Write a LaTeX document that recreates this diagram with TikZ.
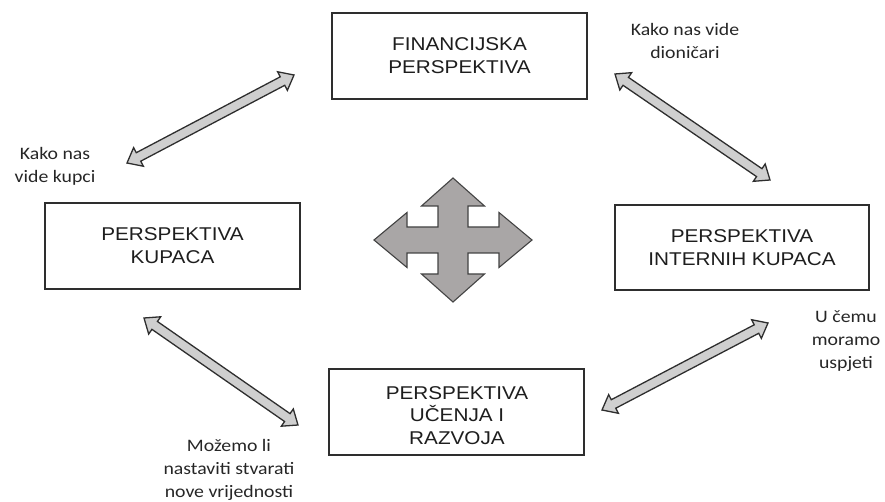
\documentclass[tikz,border=0pt]{standalone}
\usepackage{fontspec}
\usetikzlibrary{calc}
\newfontfamily\boxfont[FakeStretch=1.12]{Liberation Sans}
\newfontfamily\lblfont[FakeStretch=1.13]{Carlito}
\definecolor{boxline}{HTML}{2E2E2E}
\definecolor{boxtext}{HTML}{1E1E1E}
\definecolor{lbltext}{HTML}{262626}
\definecolor{arrfill}{HTML}{CFCFCF}
\definecolor{crossfill}{HTML}{A9A6A6}
\newdimen\BAax \newdimen\BAay \newdimen\BAbx \newdimen\BAby
\newcommand\blockarrow[2]{%
  \pgfextractx{\BAax}{\pgfpointanchor{#1}{center}}%
  \pgfextracty{\BAay}{\pgfpointanchor{#1}{center}}%
  \pgfextractx{\BAbx}{\pgfpointanchor{#2}{center}}%
  \pgfextracty{\BAby}{\pgfpointanchor{#2}{center}}%
  \pgfmathsetmacro\BAlen{veclen(\BAbx-\BAax,\BAby-\BAay)}%
  \pgfmathsetmacro\BAang{atan2(\BAby-\BAay,\BAbx-\BAax)}%
  \pgfmathsetmacro\BAe{\BAlen-13}%
  \begin{scope}[shift={(#1)}, rotate=\BAang]
    \draw[dblarrow] (0pt,0pt) -- (13pt,10.5pt) -- (13pt,4.8pt) -- (\BAe pt,4.8pt)
      -- (\BAe pt,10.5pt) -- (\BAlen pt,0pt) -- (\BAe pt,-10.5pt) -- (\BAe pt,-4.8pt)
      -- (13pt,-4.8pt) -- (13pt,-10.5pt) -- cycle;
  \end{scope}}
\tikzset{
  box/.style={draw=boxline, line width=1.3pt, fill=white, rectangle, inner sep=0pt,
    align=center, text=boxtext, font=\boxfont\fontsize{18.5}{23}\selectfont},
  lbl/.style={align=center, text=lbltext, inner sep=0pt,
    font=\lblfont\fontsize{17.5}{23}\selectfont},
  dblarrow/.style={draw=boxline, line width=1.3pt, fill=arrfill, line join=miter},
  crossarrow/.style={draw=boxline!90, line width=1.1pt, fill=crossfill, line join=miter},
}
\begin{document}
\begin{tikzpicture}[x=1pt, y=-1pt]
\useasboundingbox (0,0) rectangle (885,502);

% boxes
\node[box, minimum width=255pt, minimum height=86pt] (fin) at (459.5,56)
  {FINANCIJSKA\\PERSPEKTIVA};
\node[box, minimum width=255pt, minimum height=86pt] (kup) at (172.5,246)
  {PERSPEKTIVA\\KUPACA};
\node[box, minimum width=254pt, minimum height=85pt] (int) at (742,247.5)
  {PERSPEKTIVA\\INTERNIH KUPACA};
\node[box, minimum width=255pt, minimum height=86pt] (uce) at (456.5,412) {};
\begin{scope}
  \clip (330,370) rectangle (583,444);
  \node[box, draw=none, fill=none, anchor=north, font=\boxfont\fontsize{18.5}{22.5}\selectfont]
    (ucetext) at (457,385.5) {PERSPEKTIVA\\UČENJA I\\RAZVOJA};
\end{scope}

% labels
\node[lbl] (ldion) at (685,41) {Kako nas vide\\dioničari};
\node[lbl] (lkup) at (55,166.5) {Kako nas\\vide kupci};
\node[lbl] (lraz) at (229,470) {Možemo li\\nastaviti stvarati\\nove vrijednosti};
\node[lbl] (lint) at (846,341) {U čemu\\moramo\\uspjeti};

% double arrows
\coordinate (tlA) at (127,163); \coordinate (tlB) at (294,75);
\coordinate (trA) at (615,74);  \coordinate (trB) at (770,180);
\coordinate (blA) at (144,318); \coordinate (blB) at (298,425);
\coordinate (brA) at (602,410); \coordinate (brB) at (768,323);
\blockarrow{tlA}{tlB}
\blockarrow{trA}{trB}
\blockarrow{blA}{blB}
\blockarrow{brA}{brB}

% central four-way arrow
\begin{scope}[shift={(453,240)}]
\draw[crossarrow] (0,-62) -- (31.5,-34) -- (15,-34) -- (15,-13) -- (46,-13) -- (46,-27.5)
  -- (79,0) -- (46,27.5) -- (46,13) -- (15,13) -- (15,34) -- (31.5,34) -- (0,62)
  -- (-31.5,34) -- (-15,34) -- (-15,13) -- (-46,13) -- (-46,27.5) -- (-79,0)
  -- (-46,-27.5) -- (-46,-13) -- (-15,-13) -- (-15,-34) -- (-31.5,-34) -- cycle;
\end{scope}
\end{tikzpicture}
\end{document}
